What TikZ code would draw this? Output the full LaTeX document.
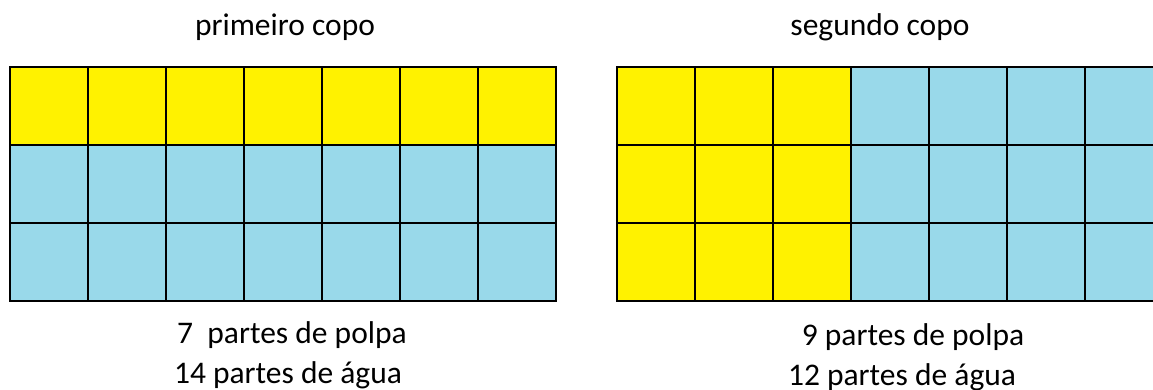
\documentclass[tikz,border=0pt]{standalone}
\usepackage{fontspec}
\setmainfont{Carlito}
\definecolor{amarelo}{HTML}{FFF200}
\definecolor{azul}{HTML}{99D9EA}

\begin{document}
\begin{tikzpicture}[x=1pt,y=-1pt,
  linha/.style={draw=black,line width=1.6pt,line cap=rect},
  rotulo/.style={font=\fontsize{31.5}{36}\selectfont,inner sep=0}]
\useasboundingbox (0,0) rectangle (1153,389);
\clip (0,0) rectangle (1153,389);
% primeiro copo
\fill[amarelo] (10,67) rectangle (556,145);
\fill[azul] (10,145) rectangle (556,301);
\foreach \c in {0,...,7} \draw[linha] (10+78*\c,67) -- (10+78*\c,301);
\foreach \r in {0,...,3} \draw[linha] (10,67+78*\r) -- (556,67+78*\r);
% segundo copo
\fill[amarelo] (617,67) rectangle (851,301);
\fill[azul] (851,67) rectangle (1163,301);
\foreach \c in {0,...,7} \draw[linha] (617+78*\c,67) -- (617+78*\c,301);
\foreach \r in {0,...,3} \draw[linha] (617,67+78*\r) -- (1163,67+78*\r);
% textos
\node[rotulo] (titulo1) at (285,27) {primeiro copo};
\node[rotulo] (titulo2) at (880,27) {segundo copo};
\node[rotulo] (polpa1) at (292,335) {7\ \ partes de polpa};
\node[rotulo] (agua1) at (288,375) {14 partes de água};
\node[rotulo] (polpa2) at (913,337) {9 partes de polpa};
\node[rotulo] (agua2) at (902,377) {12 partes de água};
\end{tikzpicture}
\end{document}
